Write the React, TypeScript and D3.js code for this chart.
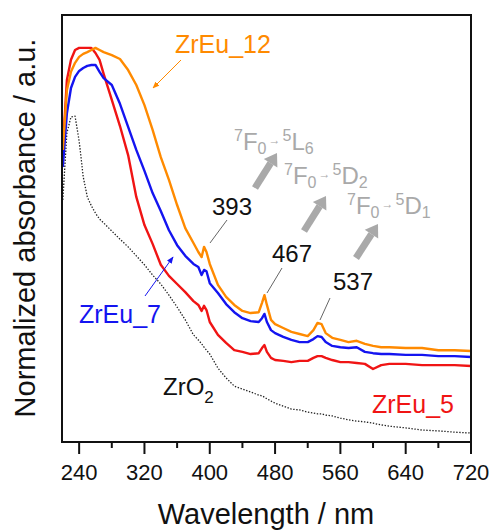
import React, { useEffect, useRef } from 'react';
import * as d3 from 'd3';

// wavelength grid (nm) shared by all spectra
const wavelengths = [
  220, 225, 230, 235, 240, 245, 250, 255, 260, 265, 270, 280, 290, 300, 310, 320, 330, 340, 350, 360,
  370, 380, 386, 390, 393, 396, 400, 410, 420, 430, 440, 450, 460, 464, 467, 470, 475, 480, 490, 500,
  510, 520, 527, 532, 537, 542, 550, 560, 570, 580, 590, 600, 610, 620, 640, 660, 680, 700, 720,
];

// normalized absorbance
const zrEu12 = [
  0.684, 0.824, 0.867, 0.888, 0.902, 0.909, 0.913, 0.918, 0.923, 0.918, 0.913, 0.906, 0.897, 0.871, 0.836, 0.789, 0.731, 0.667, 0.614, 0.555,
  0.501, 0.466, 0.445, 0.433, 0.457, 0.445, 0.417, 0.368, 0.340, 0.321, 0.307, 0.302, 0.304, 0.326, 0.344, 0.321, 0.286, 0.276, 0.267, 0.258,
  0.253, 0.248, 0.262, 0.279, 0.276, 0.255, 0.244, 0.239, 0.234, 0.237, 0.230, 0.225, 0.222, 0.222, 0.220, 0.220, 0.215, 0.215, 0.213,
];
const zrEu7 = [
  0.644, 0.770, 0.829, 0.855, 0.869, 0.876, 0.881, 0.883, 0.883, 0.867, 0.852, 0.836, 0.792, 0.738, 0.684, 0.635, 0.583, 0.541, 0.496, 0.461,
  0.436, 0.417, 0.410, 0.391, 0.403, 0.400, 0.372, 0.349, 0.323, 0.304, 0.290, 0.283, 0.281, 0.290, 0.300, 0.281, 0.262, 0.255, 0.246, 0.239,
  0.234, 0.234, 0.241, 0.248, 0.246, 0.234, 0.225, 0.222, 0.220, 0.222, 0.211, 0.208, 0.206, 0.206, 0.204, 0.204, 0.201, 0.201, 0.199,
];
const zrEu5 = [
  0.684, 0.848, 0.895, 0.918, 0.923, 0.923, 0.923, 0.923, 0.911, 0.895, 0.862, 0.801, 0.740, 0.672, 0.574, 0.508, 0.464, 0.415, 0.389, 0.370,
  0.351, 0.330, 0.321, 0.307, 0.319, 0.309, 0.281, 0.251, 0.232, 0.215, 0.211, 0.206, 0.208, 0.220, 0.227, 0.211, 0.197, 0.192, 0.190, 0.187,
  0.190, 0.190, 0.197, 0.201, 0.201, 0.197, 0.192, 0.187, 0.187, 0.185, 0.183, 0.171, 0.180, 0.183, 0.183, 0.180, 0.180, 0.180, 0.178,
];
const zrO2 = [
  0.567, 0.724, 0.761, 0.763, 0.705, 0.621, 0.574, 0.553, 0.536, 0.522, 0.513, 0.494, 0.475, 0.457, 0.436, 0.415, 0.391, 0.370, 0.344, 0.316,
  0.286, 0.251, 0.239, 0.230, 0.222, 0.215, 0.206, 0.173, 0.150, 0.131, 0.124, 0.117, 0.110, 0.108, 0.105, 0.101, 0.096, 0.091, 0.084, 0.077,
  0.075, 0.070, 0.068, 0.066, 0.066, 0.063, 0.061, 0.056, 0.052, 0.049, 0.047, 0.044, 0.040, 0.037, 0.033, 0.028, 0.026, 0.023, 0.021,
];

const majorTicks = [240, 320, 400, 480, 560, 640, 720];
const minorTicks = [280, 360, 440, 520, 600, 680];

const ORANGE = '#ff8a00';
const BLUE = '#1414f0';
const RED = '#f01414';
const GREY = '#a9a9a9';
const FONT = '"Liberation Sans", Arial, Helvetica, sans-serif';

const App: React.FC = () => {
  const svgRef = useRef<SVGSVGElement | null>(null);

  useEffect(() => {
    if (!svgRef.current) return;
    const svg = d3.select(svgRef.current);
    svg.selectAll('*').remove();

    const x = d3.scaleLinear().domain([219, 720]).range([62, 471]);
    const y = d3.scaleLinear().domain([0, 1]).range([442, 15]);

    const g = svg.append('g').attr('font-family', FONT);

    // spectra
    const line = d3
      .line<number>()
      .x((_, i) => x(wavelengths[i]))
      .y(d => y(d));

    const series = [
      { data: zrO2, color: '#222', width: 1.3, dash: '1.4,1.6' },
      { data: zrEu5, color: RED, width: 2.4, dash: null },
      { data: zrEu7, color: BLUE, width: 2.4, dash: null },
      { data: zrEu12, color: ORANGE, width: 2.4, dash: null },
    ];
    series.forEach(s => {
      g.append('path')
        .attr('d', line(s.data) || '')
        .attr('fill', 'none')
        .attr('stroke', s.color)
        .attr('stroke-width', s.width)
        .attr('stroke-linejoin', 'round')
        .attr('stroke-dasharray', s.dash);
    });

    // frame
    g.append('rect')
      .attr('x', 62)
      .attr('y', 15)
      .attr('width', 409)
      .attr('height', 427)
      .attr('fill', 'none')
      .attr('stroke', '#111')
      .attr('stroke-width', 2);

    // x ticks (outside, bottom only)
    g.selectAll('.major')
      .data(majorTicks)
      .enter()
      .append('line')
      .attr('x1', d => x(d))
      .attr('x2', d => x(d))
      .attr('y1', 442)
      .attr('y2', 454)
      .attr('stroke', '#111')
      .attr('stroke-width', 2);
    g.selectAll('.minor')
      .data(minorTicks)
      .enter()
      .append('line')
      .attr('x1', d => x(d))
      .attr('x2', d => x(d))
      .attr('y1', 442)
      .attr('y2', 448)
      .attr('stroke', '#111')
      .attr('stroke-width', 2);
    g.selectAll('.tlabel')
      .data(majorTicks)
      .enter()
      .append('text')
      .attr('x', d => x(d))
      .attr('y', 480)
      .attr('text-anchor', 'middle')
      .attr('font-size', 22)
      .attr('fill', '#111')
      .text(d => d);

    // axis titles
    g.append('text')
      .attr('x', 266)
      .attr('y', 524)
      .attr('text-anchor', 'middle')
      .attr('font-size', 29)
      .attr('fill', '#111')
      .text('Wavelength / nm');
    g.append('text')
      .attr('transform', 'translate(35,228) rotate(-90)')
      .attr('text-anchor', 'middle')
      .attr('font-size', 29)
      .attr('fill', '#111')
      .text('Normalized absorbance / a.u.');

    // arrow markers
    const defs = svg.append('defs');
    const marker = (id: string, color: string) => {
      defs.append('marker')
        .attr('id', id)
        .attr('viewBox', '0 0 10 10')
        .attr('refX', 9)
        .attr('refY', 5)
        .attr('markerWidth', 7)
        .attr('markerHeight', 7)
        .attr('orient', 'auto')
        .append('path')
        .attr('d', 'M0,1 L10,5 L0,9 Z')
        .attr('fill', color);
    };
    marker('arrOrange', ORANGE);
    marker('arrBlue', BLUE);

    // series labels
    g.append('text').attr('x', 175).attr('y', 53).attr('font-size', 25).attr('fill', ORANGE).text('ZrEu_12');
    g.append('line').attr('x1', 181).attr('y1', 60).attr('x2', 153).attr('y2', 88)
      .attr('stroke', ORANGE).attr('stroke-width', 1).attr('marker-end', 'url(#arrOrange)');

    g.append('text').attr('x', 79).attr('y', 323).attr('font-size', 25).attr('fill', BLUE).text('ZrEu_7');
    g.append('line').attr('x1', 145).attr('y1', 296).attr('x2', 173).attr('y2', 257)
      .attr('stroke', BLUE).attr('stroke-width', 1).attr('marker-end', 'url(#arrBlue)');

    const zr = g.append('text').attr('x', 163).attr('y', 395).attr('font-size', 24).attr('fill', '#111');
    zr.append('tspan').text('ZrO');
    zr.append('tspan').attr('font-size', 17).attr('dy', 8).text('2');

    g.append('text').attr('x', 372).attr('y', 413).attr('font-size', 25).attr('fill', RED).text('ZrEu_5');

    // peak labels with leader lines
    const peaks = [
      { text: '393', tx: 212, ty: 215, l: [227, 220, 210, 243] },
      { text: '467', tx: 272, ty: 262, l: [282, 268, 267, 293] },
      { text: '537', tx: 333, ty: 290, l: [330, 298, 320, 320] },
    ];
    peaks.forEach(p => {
      g.append('text').attr('x', p.tx).attr('y', p.ty).attr('font-size', 24).attr('fill', '#111').text(p.text);
      g.append('line')
        .attr('x1', p.l[0]).attr('y1', p.l[1]).attr('x2', p.l[2]).attr('y2', p.l[3])
        .attr('stroke', '#666').attr('stroke-width', 1);
    });

    // Eu3+ transitions
    const transitions = [
      { upper: 'L', sub: '6', tx: 234, ty: 150, a: [255, 188, 277, 153] },
      { upper: 'D', sub: '2', tx: 284, ty: 184, a: [304, 231, 326, 196] },
      { upper: 'D', sub: '1', tx: 347, ty: 214, a: [356, 258, 378, 224] },
    ];
    transitions.forEach(t => {
      const txt = g.append('text').attr('x', t.tx).attr('y', t.ty).attr('font-size', 24).attr('fill', GREY);
      txt.append('tspan').attr('font-size', 16).attr('dy', -9).text('7');
      txt.append('tspan').attr('dy', 9).text('F');
      txt.append('tspan').attr('font-size', 16).attr('dy', 4).text('0');
      txt.append('tspan').attr('font-size', 12).attr('dy', -10).attr('dx', 2).text('→');
      txt.append('tspan').attr('font-size', 16).attr('dy', -3).attr('dx', 2).text('5');
      txt.append('tspan').attr('dy', 9).text(t.upper);
      txt.append('tspan').attr('font-size', 16).attr('dy', 4).text(t.sub);

      // thick grey arrow
      const [x1, y1, x2, y2] = t.a;
      const ang = Math.atan2(y2 - y1, x2 - x1);
      const headLen = 12;
      const headW = 8;
      const bx = x2 - headLen * Math.cos(ang);
      const by = y2 - headLen * Math.sin(ang);
      g.append('line')
        .attr('x1', x1).attr('y1', y1).attr('x2', bx).attr('y2', by)
        .attr('stroke', GREY).attr('stroke-width', 7);
      const px = -Math.sin(ang) * headW;
      const py = Math.cos(ang) * headW;
      g.append('path')
        .attr('d', `M${x2},${y2} L${bx + px},${by + py} L${bx - px},${by - py} Z`)
        .attr('fill', GREY);
    });
  }, []);

  return (
    <svg
      ref={svgRef}
      width={492}
      height={530}
      style={{ position: 'absolute', left: 0, top: 0, background: '#fff' }}
    ></svg>
  );
};

export default App;
